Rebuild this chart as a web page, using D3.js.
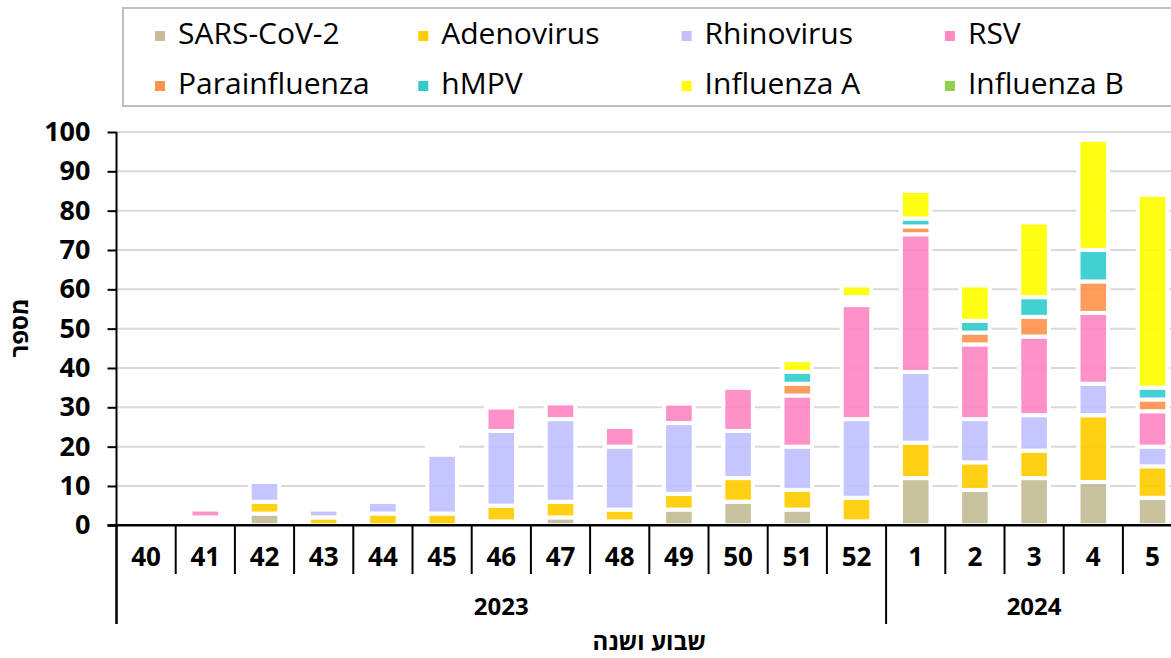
<!DOCTYPE html>
<html>
<head>
<meta charset="utf-8">
<script src="https://cdn.jsdelivr.net/npm/d3@7"></script>
<style>
  body { margin: 0; background: #fff; }
  text { font-family: 'Open Sans', 'DejaVu Sans', sans-serif; fill: #000; }
</style>
</head>
<body>
<div id="chart"></div>
<script>

// weeks and years on the x axis
var weeks = ['40','41','42','43','44','45','46','47','48','49','50','51','52','1','2','3','4','5'];
var years = [
    {label: '2023', first: '40', last: '52'},
    {label: '2024', first: '1', last: '5'}
];

// counts per virus, same order as weeks
var sars   = [0,1,3,0,0,0,1,2,1,4,6,4,1,12,9,12,11,7];
var adeno  = [0,1,3,2,3,3,4,4,3,4,6,5,6,9,7,7,17,8];
var rhino  = [0,0,5,2,3,15,19,21,16,18,12,11,20,18,11,9,8,5];
var rsv    = [0,2,0,0,1,1,6,4,5,5,11,13,29,35,19,20,18,9];
var para   = [0,0,0,0,0,1,1,0,0,1,1,3,1,2,3,5,8,3];
var hmpv   = [0,0,0,0,0,1,1,0,0,1,1,3,1,2,3,5,8,3];
var fluA   = [0,0,0,0,1,1,1,0,0,0,0,3,3,7,9,19,28,49];
var fluB   = [0,0,0,0,0,0,0,0,0,0,0,0,0,0,0,0,0,0];

var seriesNames = ['SARS-CoV-2','Adenovirus','Rhinovirus','RSV','Parainfluenza','hMPV','Influenza A','Influenza B'];
var seriesValues = [sars, adeno, rhino, rsv, para, hmpv, fluA, fluB];
var seriesColors = ['#c4bd97','#ffcc00','#c0c0ff','#ff88c4','#ff944d','#33cccc','#ffff00','#92d050'];

var yTicks = [0,10,20,30,40,50,60,70,80,90,100];

var svgWidth = 1171;
var svgHeight = 658;

var plotLeft = 116.5;
var plotTop = 132;
var plotBottom = 525.3;
var catWidth = 59.2;

var svg = d3.select('#chart')
    .append('svg')
    .attr('width', svgWidth)
    .attr('height', svgHeight);

// build rows for the stack
var rows = weeks.map(function(w, i) {
    var r = {week: w};
    seriesNames.forEach(function(n, j) { r[n] = seriesValues[j][i]; });
    return r;
});

var stack = d3.stack().keys(seriesNames);
var stacked = stack(rows);

var xScale = d3.scaleBand()
    .domain(weeks)
    .range([plotLeft, plotLeft + catWidth * weeks.length])
    .padding(0);

var yScale = d3.scaleLinear()
    .domain([0, 100])
    .range([plotBottom, plotTop]);

var bw = xScale.bandwidth();
var barWidth = bw * 0.5;

// gridlines
svg.append('g').selectAll('line')
    .data(yTicks.slice(1))
    .enter()
    .append('line')
    .attr('x1', plotLeft)
    .attr('x2', svgWidth)
    .attr('y1', d => yScale(d))
    .attr('y2', d => yScale(d))
    .attr('stroke', '#d9d9d9')
    .attr('stroke-width', 2);

// stacked bars
var layers = svg.append('g').selectAll('g')
    .data(stacked)
    .enter()
    .append('g')
    .attr('fill', (d, i) => seriesColors[i]);

layers.selectAll('rect')
    .data(d => d.filter(s => s[1] - s[0] > 0))
    .enter()
    .append('rect')
    .attr('x', d => xScale(d.data.week) + (bw - barWidth) / 2)
    .attr('y', d => yScale(d[1]))
    .attr('width', barWidth)
    .attr('height', d => yScale(d[0]) - yScale(d[1]))
    .attr('fill-opacity', 0.92)
    .attr('stroke', '#fff')
    .attr('stroke-width', 4);

// y axis
var leftAxis = d3.axisLeft(yScale)
    .tickValues(yTicks)
    .tickSize(9)
    .tickSizeOuter(0)
    .tickPadding(17);

var yAxisG = svg.append('g')
    .attr('transform', `translate(${plotLeft},0)`)
    .call(leftAxis);

yAxisG.select('.domain').remove();
yAxisG.selectAll('line').attr('stroke', '#000').attr('stroke-width', 2);
yAxisG.selectAll('text')
    .style('font-family', "'Open Sans', 'DejaVu Sans', sans-serif")
    .style('font-size', '27px')
    .style('font-weight', 'bold')
    .attr('fill', '#000');

// y axis line goes down through the category rows
svg.append('line')
    .attr('x1', plotLeft).attr('x2', plotLeft)
    .attr('y1', plotTop).attr('y2', 624)
    .attr('stroke', '#000').attr('stroke-width', 2);

// x axis line
svg.append('line')
    .attr('x1', plotLeft - 9).attr('x2', svgWidth)
    .attr('y1', plotBottom).attr('y2', plotBottom)
    .attr('stroke', '#000').attr('stroke-width', 2.5);

// separators between weeks, longer ones between years
var yearStarts = years.map(y => y.first);
svg.append('g').selectAll('line')
    .data(weeks.concat(['end']))
    .enter()
    .append('line')
    .attr('x1', (d, i) => plotLeft + i * bw)
    .attr('x2', (d, i) => plotLeft + i * bw)
    .attr('y1', plotBottom)
    .attr('y2', d => (yearStarts.indexOf(d) >= 0 || d == 'end') ? 624 : 574)
    .attr('stroke', '#000')
    .attr('stroke-width', 2);

// week labels
svg.append('g').selectAll('text')
    .data(weeks)
    .enter()
    .append('text')
    .attr('x', d => xScale(d) + bw / 2)
    .attr('y', 566)
    .attr('text-anchor', 'middle')
    .style('font-size', '26px')
    .style('font-weight', 'bold')
    .text(d => d);

// year labels
svg.append('g').selectAll('text')
    .data(years)
    .enter()
    .append('text')
    .attr('x', d => (xScale(d.first) + xScale(d.last) + bw) / 2)
    .attr('y', 615)
    .attr('text-anchor', 'middle')
    .style('font-size', '24px')
    .style('font-weight', 'bold')
    .text(d => d.label);

// axis titles
svg.append('text')
    .attr('x', (xScale.range()[0] + xScale.range()[1]) / 2)
    .attr('y', 650)
    .attr('text-anchor', 'middle')
    .style('font-size', '24px')
    .style('font-weight', 'bold')
    .text('שבוע ושנה');

svg.append('text')
    .attr('transform', `translate(28, 328) rotate(-90)`)
    .attr('text-anchor', 'middle')
    .style('font-size', '24px')
    .style('font-weight', 'bold')
    .text('מספר');

// legend
var legend = svg.append('g');

legend.append('rect')
    .attr('x', 123)
    .attr('y', 8)
    .attr('width', 1050)
    .attr('height', 98)
    .attr('fill', '#fff')
    .attr('stroke', '#bfbfbf')
    .attr('stroke-width', 2);

var legendItems = legend.selectAll('g.item')
    .data(seriesNames)
    .enter()
    .append('g')
    .classed('item', true)
    .attr('transform', (d, i) => `translate(${155 + (i % 4) * 263.3}, ${i < 4 ? 0 : 50})`);

legendItems.append('rect')
    .attr('x', 0)
    .attr('y', 31)
    .attr('width', 10)
    .attr('height', 10)
    .attr('fill', (d, i) => seriesColors[i]);

legendItems.append('text')
    .attr('x', 23)
    .attr('y', 44)
    .style('font-size', '30px')
    .text(d => d);

</script>
</body>
</html>
